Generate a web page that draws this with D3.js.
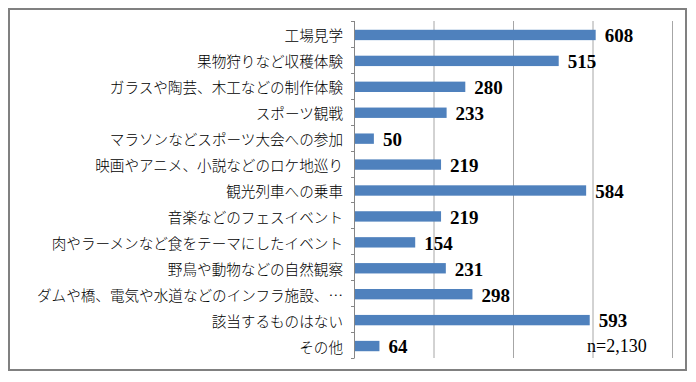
<!DOCTYPE html>
<html><head><meta charset="utf-8">
<script src="https://cdn.jsdelivr.net/npm/d3@7"></script>
<style>
html,body{margin:0;padding:0;background:#fff;}
svg{display:block;}
</style>
</head><body>
<script>
const categories = [
  "工場見学",
  "果物狩りなど収穫体験",
  "ガラスや陶芸、木工などの制作体験",
  "スポーツ観戦",
  "マラソンなどスポーツ大会への参加",
  "映画やアニメ、小説などのロケ地巡り",
  "観光列車への乗車",
  "音楽などのフェスイベント",
  "肉やラーメンなど食をテーマにしたイベント",
  "野鳥や動物などの自然観察",
  "ダムや橋、電気や水道などのインフラ施設、…",
  "該当するものはない",
  "その他"
];
const values = [608, 515, 280, 233, 50, 219, 584, 219, 154, 231, 298, 593, 64];
const xTicks = [0, 200, 400, 600, 800];
const note = "n=2,130";

const W = 696, H = 382;
const svg = d3.select("body").append("svg").attr("width", W).attr("height", H);

// outer frame
svg.append("rect").attr("x", 9).attr("y", 9).attr("width", 677).attr("height", 361)
  .attr("fill", "#fff").attr("stroke", "#808080").attr("stroke-width", 2);

const x = d3.scaleLinear().domain([0, 800]).range([354, 672]);
const y = d3.scaleBand().domain(categories).range([21, 358]).paddingInner(0.6).paddingOuter(0.3);

// gridlines
svg.append("g").selectAll("line").data(xTicks.slice(1)).join("line")
  .attr("x1", d => x(d) + 0.5).attr("x2", d => x(d) + 0.5)
  .attr("y1", 21).attr("y2", 358)
  .attr("stroke", "#a6a6a6").attr("stroke-width", 1);

// bars
svg.append("g").selectAll("rect").data(values).join("rect")
  .attr("x", x(0))
  .attr("y", (d, i) => y(categories[i]) + 1)
  .attr("width", d => x(d) - x(0))
  .attr("height", y.bandwidth())
  .attr("fill", "#4f81bd");

// axis line + boundary ticks
const step = y.step();
const bounds = d3.range(categories.length + 1).map(i => 21 + i * step);
svg.append("line").attr("x1", x(0) + 0.5).attr("x2", x(0) + 0.5).attr("y1", 21).attr("y2", 358)
  .attr("stroke", "#868686").attr("stroke-width", 1);
svg.append("g").selectAll("line").data(bounds).join("line")
  .attr("x1", x(0) - 3).attr("x2", x(0) + 0.5)
  .attr("y1", d => Math.round(d) + 0.5).attr("y2", d => Math.round(d) + 0.5)
  .attr("stroke", "#868686").attr("stroke-width", 1);

// category labels
svg.append("g").selectAll("text").data(categories).join("text")
  .attr("x", 343)
  .attr("y", d => y(d) + y.bandwidth() / 2 + 1)
  .attr("text-anchor", "end")
  .attr("dominant-baseline", "central")
  .attr("font-family", "'Noto Sans CJK JP', sans-serif")
  .attr("font-weight", 300)
  .attr("font-size", "14.6px")
  .attr("fill", "#000")
  .text(d => d);

// value labels
svg.append("g").selectAll("text").data(values).join("text")
  .attr("x", d => x(d) + 9)
  .attr("y", (d, i) => y(categories[i]) + y.bandwidth() / 2 + 1.5)
  .attr("dy", "0.36em")
  .attr("font-family", "'Liberation Serif', 'DejaVu Serif', serif")
  .attr("font-weight", "bold")
  .attr("font-size", "19px")
  .attr("fill", "#000")
  .text(d => d);

// note
svg.append("text").attr("x", 587).attr("y", 352)
  .attr("font-family", "'Liberation Serif', serif")
  .attr("font-size", "18px")
  .attr("fill", "#000")
  .text(note);
</script>
</body></html>
